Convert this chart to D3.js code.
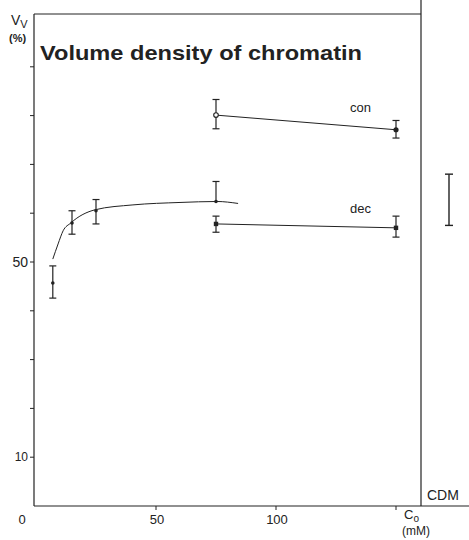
<!DOCTYPE html>
<html><head><meta charset="utf-8">
<script src="https://cdn.jsdelivr.net/npm/d3@7"></script>
<style>body{margin:0;background:#fff}svg{display:block}text{font-family:"Liberation Sans",Arial,sans-serif;fill:#222}</style>
</head><body>
<script>
// Data
const yTicks = [10,20,30,40,50,60,70,80,90];
const yTickLabels = [10,50];
const xTickLabels = [0,50,100];
// dec fitted-curve series (measured points)
const decCurveX = [7,15,25,75];
const decCurveY = [45.7,58.0,60.5,62.4];
const decCurveLo = [42.6,55.7,57.8,62.4];
const decCurveHi = [49.2,60.5,62.8,66.5];
// hand-drawn fitted curve
const fitX = [7.0,9.2,11.3,14.5,24.6,40.4,60,75.4,84.2];
const fitY = [50.6,53.7,56.4,58.0,60.7,61.7,62.2,62.4,62.0];
// dec (lower line)
const decX = [75,150];
const decY = [57.8,57.0];
const decLo = [56.1,55.1];
const decHi = [59.4,59.4];
// con
const conX = [75,150];
const conY = [80.1,77.1];
const conLo = [77.3,75.4];
const conHi = [83.3,79.0];
// CDM range
const cdmLo = 57.5, cdmHi = 68.0;

const W=469,H=540;
const svg=d3.select("body").append("svg").attr("width",W).attr("height",H);
const x=d3.scaleLinear().domain([0,150]).range([36,396]);
const y=d3.scaleLinear().domain([0,100]).range([506,18]);
const ink="#222";

// frame
svg.append("line").attr("x1",34).attr("x2",34).attr("y1",14).attr("y2",y(0)).attr("stroke",ink).attr("stroke-width",1.2);
svg.append("line").attr("x1",34).attr("x2",421).attr("y1",14).attr("y2",14).attr("stroke",ink).attr("stroke-width",1);
svg.append("line").attr("x1",34).attr("x2",469).attr("y1",y(0)).attr("y2",y(0)).attr("stroke",ink).attr("stroke-width",1.2);
svg.append("line").attr("x1",421).attr("x2",421).attr("y1",0).attr("y2",y(0)).attr("stroke",ink).attr("stroke-width",1.2);

// y ticks
svg.selectAll(".yt").data(yTicks).enter().append("line")
 .attr("x1",30).attr("x2",34).attr("y1",d=>y(d)).attr("y2",d=>y(d)).attr("stroke",ink).attr("stroke-width",1);
svg.selectAll(".yl").data(yTickLabels).enter().append("text")
 .attr("x",28).attr("y",d=>y(d)).attr("dy","0.35em").attr("text-anchor","end")
 .attr("font-size",d=>d===50?14:12).text(d=>d);
// x ticks
svg.selectAll(".xt").data([50,100,150]).enter().append("line")
 .attr("x1",d=>x(d)).attr("x2",d=>x(d)).attr("y1",y(0)).attr("y2",y(0)+4).attr("stroke",ink).attr("stroke-width",1);
svg.selectAll(".xl").data(xTickLabels).enter().append("text")
 .attr("x",d=>d===0?22:x(d)+1).attr("y",524).attr("text-anchor","middle").attr("font-size",13).text(d=>d);
// Co label
const co=svg.append("text").attr("x",404).attr("y",519).attr("font-size",13);
co.append("tspan").text("C");
co.append("tspan").attr("font-size",10).attr("dy",3).text("o");
svg.append("text").attr("x",416).attr("y",535).attr("text-anchor","middle").attr("font-size",12).text("(mM)");
svg.append("text").attr("x",427).attr("y",500).attr("font-size",14).text("CDM");

// axis label
const vv=svg.append("text").attr("x",11).attr("y",25).attr("font-size",14);
vv.append("tspan").text("V");
vv.append("tspan").attr("font-size",11).attr("dy",3).text("V");
svg.append("text").attr("x",9).attr("y",42).attr("font-size",11).attr("font-weight","bold").text("(%)");

// title
svg.append("text").attr("x",40).attr("y",60).attr("font-size",21).attr("font-weight","bold")
 .attr("textLength",322).attr("lengthAdjust","spacingAndGlyphs").text("Volume density of chromatin");

// fitted curve
svg.append("path").datum(fitX.map((d,i)=>[d,fitY[i]]))
 .attr("d",d3.line().x(d=>x(d[0])).y(d=>y(d[1])).curve(d3.curveMonotoneX))
 .attr("fill","none").attr("stroke",ink).attr("stroke-width",1);
// dec curve points with error bars (last one upper only)
decCurveX.forEach((d,i)=>{
  const g=svg.append("g").attr("stroke",ink).attr("stroke-width",1.2);
  g.append("line").attr("x1",x(d)).attr("x2",x(d)).attr("y1",y(decCurveLo[i])).attr("y2",y(decCurveHi[i]));
  g.append("line").attr("x1",x(d)-3.5).attr("x2",x(d)+3.5).attr("y1",y(decCurveHi[i])).attr("y2",y(decCurveHi[i]));
  if(decCurveLo[i]!==decCurveY[i])
    g.append("line").attr("x1",x(d)-3.5).attr("x2",x(d)+3.5).attr("y1",y(decCurveLo[i])).attr("y2",y(decCurveLo[i]));
  svg.append("circle").attr("cx",x(d)).attr("cy",y(decCurveY[i])).attr("r",1.8).attr("fill",ink);
});
// lines
const ln=d3.line().x(d=>x(d[0])).y(d=>y(d[1]));
svg.append("path").datum(decX.map((d,i)=>[d,decY[i]])).attr("d",ln).attr("fill","none").attr("stroke",ink).attr("stroke-width",1);
svg.append("path").datum(conX.map((d,i)=>[d,conY[i]])).attr("d",ln).attr("fill","none").attr("stroke",ink).attr("stroke-width",1);
function bars(xs,lo,hi){
  const g=svg.append("g").attr("stroke",ink).attr("stroke-width",1.2);
  xs.forEach((d,i)=>{
    g.append("line").attr("x1",x(d)).attr("x2",x(d)).attr("y1",y(lo[i])).attr("y2",y(hi[i]));
    [lo[i],hi[i]].forEach(v=>g.append("line").attr("x1",x(d)-3.5).attr("x2",x(d)+3.5).attr("y1",y(v)).attr("y2",y(v)));
  });
}
bars(decX,decLo,decHi);
bars(conX,conLo,conHi);
// markers
decX.forEach((d,i)=>{
  svg.append("rect").attr("x",x(d)-2.2).attr("y",y(decY[i])-2.2).attr("width",4.4).attr("height",4.4).attr("fill",ink);
});
svg.append("circle").attr("cx",x(conX[0])).attr("cy",y(conY[0])).attr("r",2.3).attr("fill","#fff").attr("stroke",ink).attr("stroke-width",1.1);
svg.append("circle").attr("cx",x(conX[1])).attr("cy",y(conY[1])).attr("r",2.6).attr("fill",ink);
// series labels
svg.append("text").attr("x",350).attr("y",112).attr("font-size",13).text("con");
svg.append("text").attr("x",350).attr("y",213).attr("font-size",13).text("dec");
// CDM bar
const cg=svg.append("g").attr("stroke",ink).attr("stroke-width",1.4);
cg.append("line").attr("x1",449).attr("x2",449).attr("y1",y(cdmLo)).attr("y2",y(cdmHi));
[cdmLo,cdmHi].forEach(v=>cg.append("line").attr("x1",445).attr("x2",453).attr("y1",y(v)).attr("y2",y(v)));
</script>
</body></html>
